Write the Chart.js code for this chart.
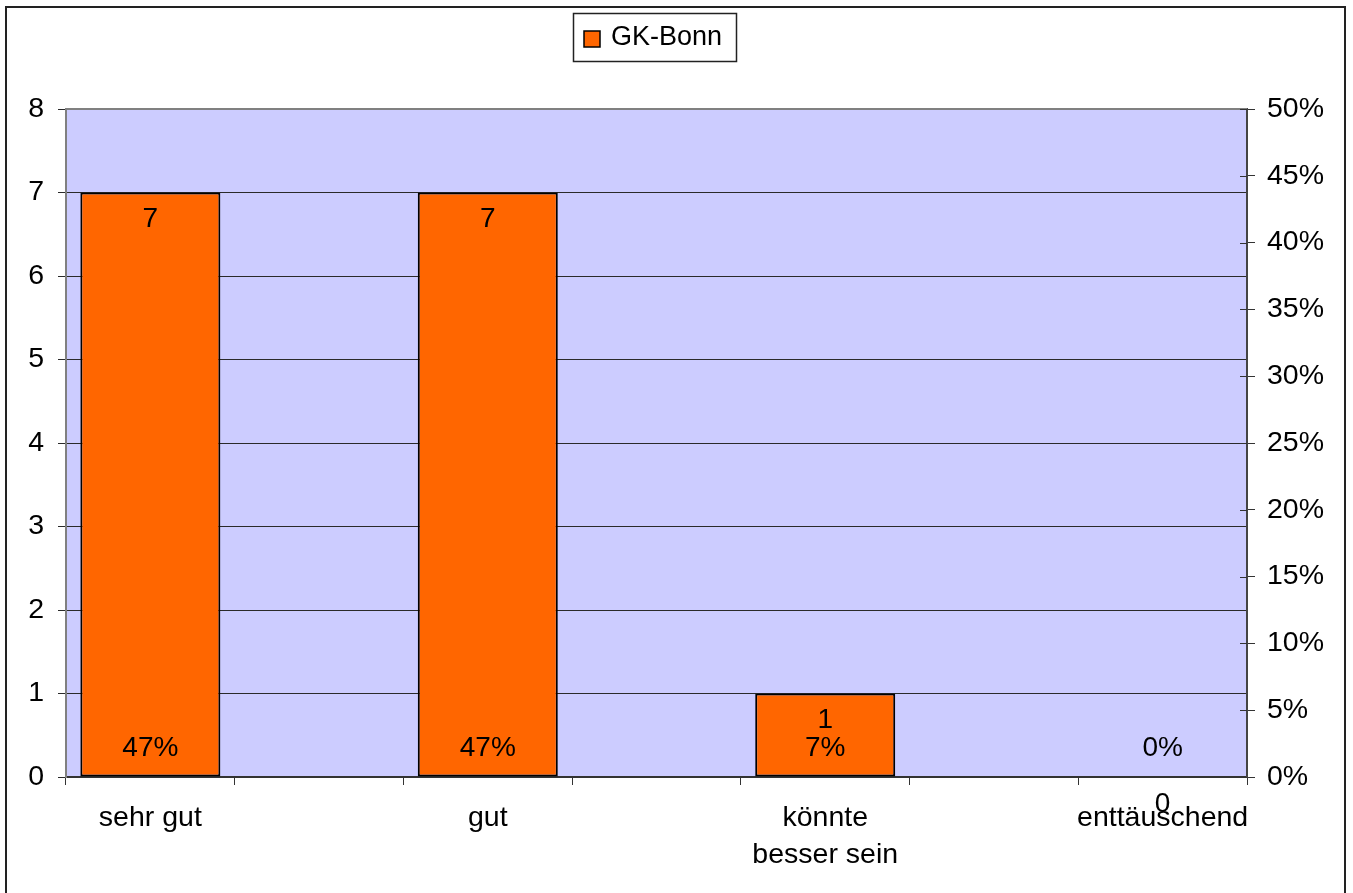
<!DOCTYPE html>
<html>
<head>
<meta charset="utf-8">
<style>
  html, body { margin: 0; padding: 0; background: #fff; }
  #chart { display: block; }
</style>
<script src="https://cdn.jsdelivr.net/npm/chart.js@4/dist/chart.umd.min.js"></script>
</head>
<body>
<canvas id="chart" width="1353" height="893"></canvas>
<script>
// data
const seriesName = "GK-Bonn";
const categories = ["sehr gut", "gut", ["könnte", "besser sein"], "enttäuschend"];
const counts = [7, 7, 1, 0];
const percents = [47, 47, 7, 0];
const countTicks = [0, 1, 2, 3, 4, 5, 6, 7, 8];
const percentTicks = [0, 5, 10, 15, 20, 25, 30, 35, 40, 45, 50];

// the original sheet has an empty row between each category
const slotLabels = [];
const slotCounts = [];
const slotPercents = [];
categories.forEach((c, i) => {
  if (i > 0) {
    slotLabels.push("");
    slotCounts.push(null);
    slotPercents.push(null);
  }
  slotLabels.push(c);
  slotCounts.push(counts[i]);
  slotPercents.push(percents[i]);
});

const font = "Liberation Sans, Arial, sans-serif";

const chartDecor = {
  id: "chartDecor",
  beforeDraw(chart) {
    const ctx = chart.ctx;
    const a = chart.chartArea;
    ctx.save();
    ctx.fillStyle = "#fff";
    ctx.fillRect(0, 0, chart.width, chart.height);
    // outer frame
    ctx.strokeStyle = "#222";
    ctx.lineWidth = 2;
    ctx.strokeRect(6, 7, 1339, 900);
    // plot area
    ctx.fillStyle = "#ccccff";
    ctx.fillRect(a.left, a.top, a.right - a.left, a.bottom - a.top);
    ctx.restore();
  },
  afterDraw(chart) {
    const ctx = chart.ctx;
    const a = chart.chartArea;
    ctx.save();
    // plot border top line in grey
    ctx.strokeStyle = "#808080";
    ctx.lineWidth = 2;
    ctx.beginPath();
    ctx.moveTo(a.left, a.top);
    ctx.lineTo(a.right, a.top);
    ctx.stroke();
    // right axis ticks crossing the axis
    const y2 = chart.scales.y2;
    ctx.strokeStyle = "#333";
    ctx.lineWidth = 1;
    y2.ticks.forEach((t) => {
      const py = Math.round(y2.getPixelForValue(t.value)) + 0.5;
      ctx.beginPath();
      ctx.moveTo(a.right - 7, py);
      ctx.lineTo(a.right, py);
      ctx.stroke();
    });

    // data labels
    const meta = chart.getDatasetMeta(0);
    const y = chart.scales.y;
    const base = y.getPixelForValue(0);
    ctx.fillStyle = "#000";
    ctx.font = "28px " + font;
    ctx.textAlign = "center";
    ctx.textBaseline = "middle";
    meta.data.forEach((bar, i) => {
      const v = slotCounts[i];
      if (v === null) return;
      ctx.fillText(String(v), bar.x, y.getPixelForValue(v) + 27);
      ctx.fillText(slotPercents[i] + "%", bar.x, base - 29);
    });

    // legend box
    ctx.strokeStyle = "#222";
    ctx.lineWidth = 1.5;
    ctx.fillStyle = "#fff";
    ctx.fillRect(573, 13, 163, 48);
    ctx.strokeRect(573.5, 13.5, 163, 48);
    ctx.fillStyle = "#ff6600";
    ctx.fillRect(584, 31, 16, 16);
    ctx.strokeStyle = "#000";
    ctx.lineWidth = 1.5;
    ctx.strokeRect(584, 31, 16, 16);
    ctx.fillStyle = "#000";
    ctx.textAlign = "left";
    ctx.font = "27px " + font;
    ctx.fillText(seriesName, 611, 38);
    ctx.restore();
  }
};

new Chart(document.getElementById("chart"), {
  type: "bar",
  data: {
    labels: slotLabels,
    datasets: [
      {
        label: seriesName,
        data: slotCounts,
        backgroundColor: "#ff6600",
        borderColor: "#000",
        borderWidth: 2,
        borderSkipped: false,
        barPercentage: 0.83,
        categoryPercentage: 1,
        yAxisID: "y"
      }
    ]
  },
  options: {
    responsive: false,
    animation: false,
    layout: { padding: { left: 6, right: 6, top: 109, bottom: 6 } },
    plugins: {
      legend: { display: false },
      tooltip: { enabled: false }
    },
    scales: {
      x: {
        grid: {
          offset: true,
          drawOnChartArea: false,
          color: "#333",
          tickLength: 8
        },
        border: { color: "#333", width: 2 },
        ticks: {
          autoSkip: false,
          maxRotation: 0,
          minRotation: 0,
          padding: 15,
          color: "#000",
          font: { family: font, size: 28.5, lineHeight: 1.28 }
        },
        afterFit(scale) { scale.height = 110; }
      },
      y: {
        position: "left",
        min: 0,
        max: 8,
        afterBuildTicks(scale) { scale.ticks = countTicks.map((v) => ({ value: v })); },
        grid: { color: "#2a2a2a", tickLength: 8 },
        border: { color: "#808080", width: 2 },
        ticks: {
          padding: 14,
          color: "#000",
          font: { family: font, size: 28.5 }
        },
        afterFit(scale) { scale.width = 60; }
      },
      y2: {
        position: "right",
        min: 0,
        max: 50,
        afterBuildTicks(scale) { scale.ticks = percentTicks.map((v) => ({ value: v })); },
        grid: { drawOnChartArea: false, color: "#333", tickLength: 8 },
        border: { color: "#444", width: 2 },
        ticks: {
          padding: 12,
          color: "#000",
          font: { family: font, size: 28.5 },
          callback: (v) => v + "%"
        },
        afterFit(scale) { scale.width = 100; }
      }
    }
  },
  plugins: [chartDecor]
});
</script>
</body>
</html>
